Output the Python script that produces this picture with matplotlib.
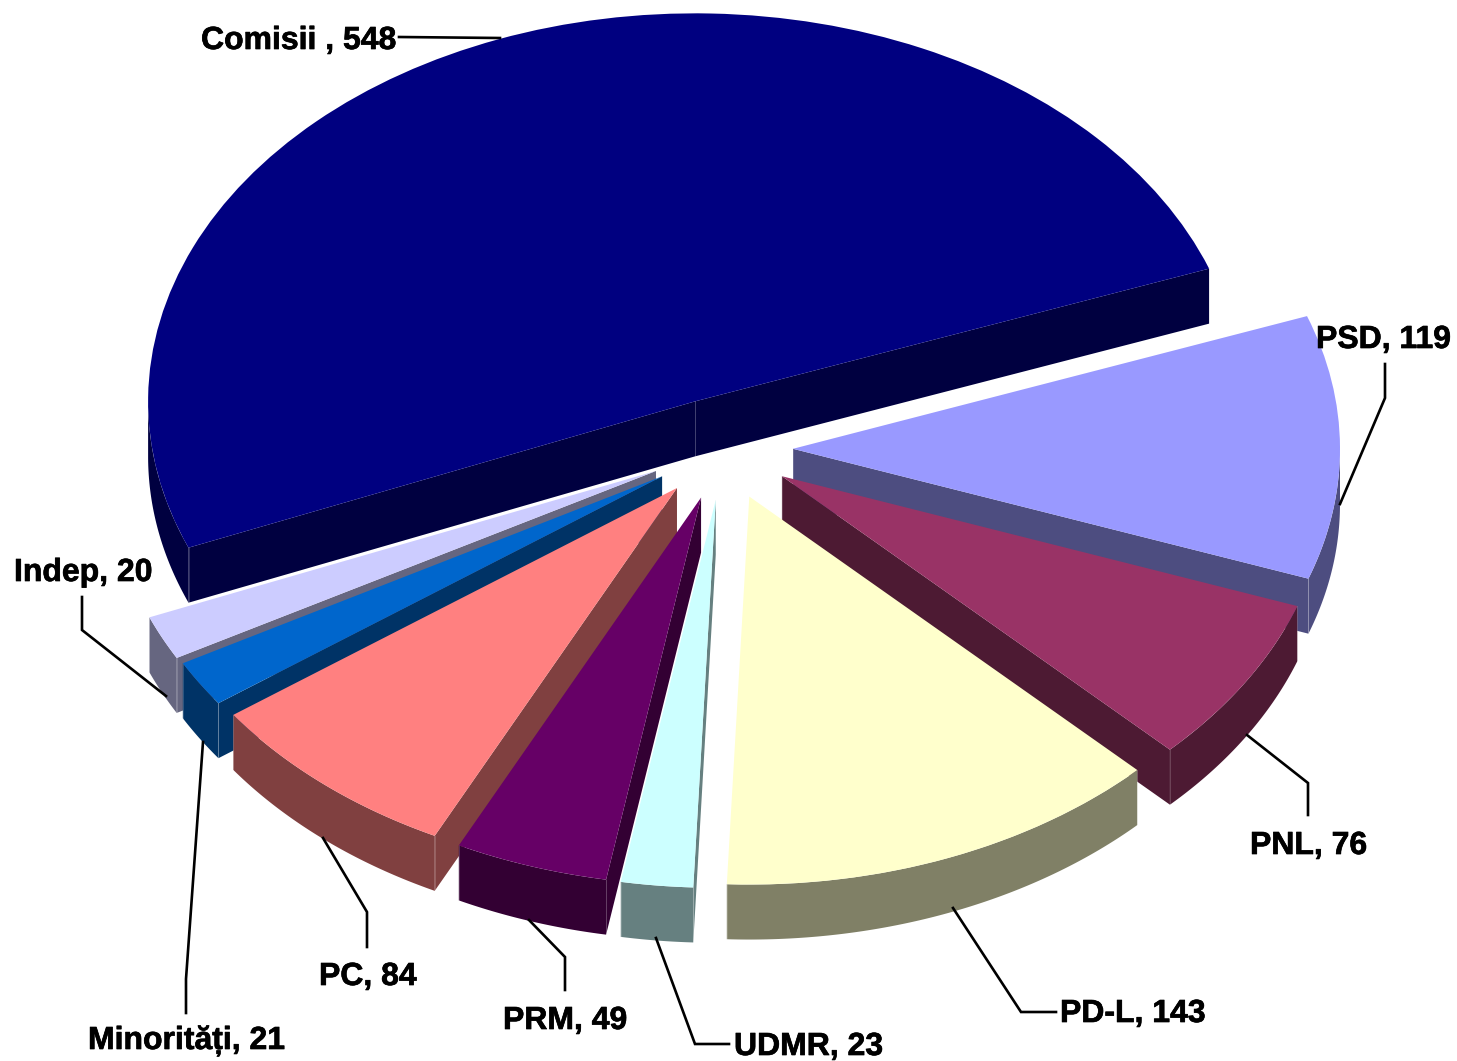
import numpy as np
import matplotlib
matplotlib.use("Agg")
from matplotlib import pyplot as plt
from matplotlib.patches import Polygon
import matplotlib.patheffects as pe

names = ["Comisii ", "Indep", "Minorități", "PC", "PRM", "UDMR", "PD-L", "PNL", "PSD"]
values = [548, 20, 21, 84, 49, 23, 143, 76, 119]
colors = ["#000080", "#CCCCFF", "#0066CC", "#FF8080", "#660066",
          "#CCFFFF", "#FFFFCC", "#993366", "#9999FF"]
walls = ["#000040", "#666680", "#003366", "#804040", "#330033",
         "#668080", "#808066", "#4D1A33", "#4D4D80"]
draw_order = [0, 8, 7, 6, 1, 2, 3, 4, 5]

W, H = 1457, 1061
# pie geometry in pixels of the reference
cx, cy = 721, 449
rx, ry = 547, 388
depth = 55 / ry
# small sideways shift of each slice, the 3d view of the original is not a clean ellipse
nudge = [0, 0, 2, 2.5, 2.5, 2.5, 2, 0, 0]

# label left/baseline in pixels
label_pos = {"Comisii ": (201, 49), "Indep": (14, 581), "Minorități": (88, 1049),
             "PC": (319, 985), "PRM": (503, 1029), "UDMR": (734, 1055),
             "PD-L": (1060, 1022), "PNL": (1250, 854), "PSD": (1316, 348)}
leaders = {"Comisii ": [(399, 37), (500, 38)],
           "Indep": [(82, 597), (82, 630), (166, 696)],
           "Minorități": [(186, 1013), (186, 979), (203, 742)],
           "PC": [(367, 947), (367, 912), (323, 838)],
           "PRM": [(565, 990), (565, 957), (529, 920)],
           "UDMR": [(729, 1044), (695, 1044), (656, 938)],
           "PD-L": [(1056, 1012), (1021, 1012), (953, 908)],
           "PNL": [(1308, 815), (1308, 783), (1247, 735)],
           "PSD": [(1385, 364), (1385, 398), (1340, 504)]}


def px(x, y):
    return (x - cx) / rx, (cy - y) / ry


fig = plt.figure(figsize=(W / 100, H / 100), dpi=100)
ax = fig.add_axes([0, 0, 1, 1])
wedges, _ = ax.pie(values, colors=colors, startangle=20, radius=1,
                   explode=[72 / rx] * len(values),
                   wedgeprops={"linewidth": 0})
ax.set_aspect("auto")
ax.set_xlim(-cx / rx, (W - cx) / rx)
ax.set_ylim((cy - H) / ry, cy / ry)
ax.axis("off")

for z, i in enumerate(draw_order):
    w = wedges[i]
    w.set_center((w.center[0] + nudge[i] / rx, w.center[1]))
    w.set_zorder(3 * z + 3)
    t = np.radians(np.linspace(w.theta1, w.theta2, 300))
    ax0, ay0 = w.center
    xs = ax0 + np.cos(t)
    ys = ay0 + np.sin(t)
    wall_col = walls[i]
    # only the faces turned to the viewer get a wall
    front = np.sin(t) < 0
    if front.sum() > 1:
        band = np.r_[np.c_[xs[front], ys[front]], np.c_[xs[front], ys[front] - depth][::-1]]
        ax.add_patch(Polygon(band, closed=True, facecolor=wall_col, linewidth=0, zorder=3 * z + 1))
    if np.sin(t[0] - np.pi / 2) < 0:
        face = [(ax0, ay0), (xs[0], ys[0]), (xs[0], ys[0] - depth), (ax0, ay0 - depth)]
        ax.add_patch(Polygon(face, closed=True, facecolor=wall_col, linewidth=0, zorder=3 * z + 1))
    if np.sin(t[-1] + np.pi / 2) < 0:
        face = [(ax0, ay0), (xs[-1], ys[-1]), (xs[-1], ys[-1] - depth), (ax0, ay0 - depth)]
        ax.add_patch(Polygon(face, closed=True, facecolor=wall_col, linewidth=0, zorder=3 * z + 1))
    # thin light seams on the wall corners
    for sx, sy in [(ax0, ay0), (xs[0], ys[0]), (xs[-1], ys[-1])]:
        ax.plot([sx, sx], [sy, sy - depth], color="white", alpha=0.18, lw=0.7,
                zorder=3 * z + 2)

for name, val in zip(names, values):
    pts = [px(*p) for p in leaders[name]]
    ax.plot([p[0] for p in pts], [p[1] for p in pts], color="black", lw=1.9,
            solid_joinstyle="miter", zorder=60)
    lx, ly = px(*label_pos[name])
    ax.text(lx, ly, f"{name}, {val}", family="Liberation Sans", weight="bold",
            fontsize=23, ha="left", va="baseline", color="black", zorder=70,
            path_effects=[pe.withStroke(linewidth=0.5, foreground="black")])

fig.savefig("out.png", dpi=100, facecolor="white")
